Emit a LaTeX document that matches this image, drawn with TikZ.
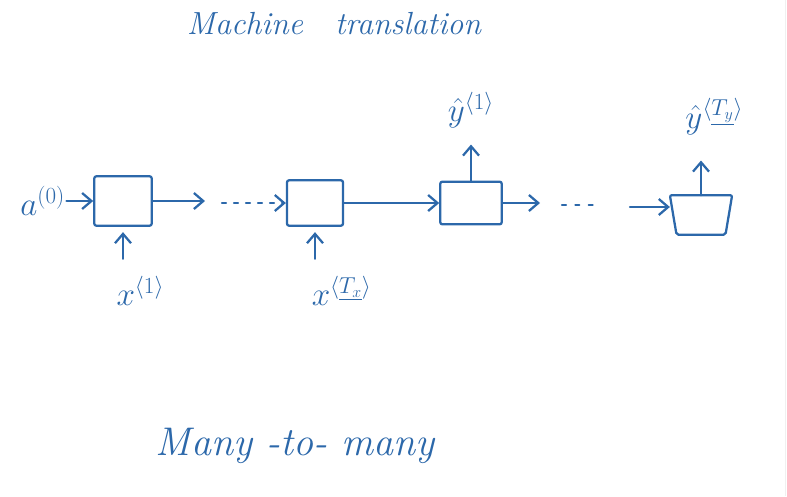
\documentclass[tikz,border=0pt]{standalone}
\usetikzlibrary{arrows.meta,positioning}
\definecolor{pen}{RGB}{44,104,170}

\begin{document}
\begin{tikzpicture}[%
    x=0.75pt, y=-0.75pt,        % one unit is one pixel, y runs downwards
    >={Straight Barb[length=7pt,width=12pt]}, % open hand-drawn heads
    every node/.style={text=pen},
    ]
\useasboundingbox (0,0) rectangle (787,496);
% -------------------------------------------------
% Box and line styles
\tikzset{
  cell/.style={draw=pen, line width=1.7pt, rounded corners=1.5pt, inner sep=0pt,
               minimum width=43pt, minimum height=35pt},
  lbl/.style={inner sep=1pt, font=\fontsize{26}{30}\selectfont},
  it/.style={inner sep=1pt, font=\itshape},
  norm/.style={->, draw=pen, line width=1.7pt, line cap=round},
  dots/.style={draw=pen, line width=1.7pt, line cap=round,
               dash pattern=on 3pt off 7pt},
}
% -------------------------------------------------
% The unrolled cells
\node [cell, minimum height=37pt] (box1) at (123,201) {};
\node [cell, minimum width=42pt, minimum height=34pt] (box2) at (315,203) {};
\node [cell, minimum width=46pt, minimum height=32pt] (box3) at (471,203) {};
\node [cell, draw=none, minimum width=45pt, minimum height=28pt] (box4) at (701,215) {};
% last cell is a bit squashed at the bottom
\draw [pen, line width=1.7pt, rounded corners=1.5pt] (box4.north west) -- (box4.north east)
      -- ([xshift=-5pt]box4.south east) -- ([xshift=5pt]box4.south west) -- cycle;

% inputs and outputs
\node [lbl, left=20pt of box1] (a0) {$a^{(0)}$};
\node [lbl, below=36pt of box1, xshift=13pt] (x1) {$x^{\langle 1\rangle}$};
\node [lbl, below=36pt of box2, xshift=20pt] (xT) {$x^{\langle \underline{T_x}\rangle}$};
\node [lbl, above=38pt of box3] (y1) {$\hat{y}^{\langle 1\rangle}$};
\node [lbl, above=44pt of box4, xshift=10pt] (yT) {$\hat{y}^{\langle \underline{T_y}\rangle}$};

% free ends of the broken connectors
\coordinate (c1) at (205,201);
\coordinate (d1) at (222,203);
\coordinate (c3) at (540,203);
\coordinate (d3) at (562,205);
\coordinate (e3) at (600,205);
\coordinate (c4) at (630,207);

% -------------------------------------------------
% Connectors
\draw [norm] (a0.east) -- (box1.west);
\draw [norm] (box1) -- (c1);
\draw [norm, dash pattern=on 3pt off 6pt] (d1) -- (box2.west);
\draw [norm] (box2) -- (box3);
\draw [norm] (box3) -- (c3);
\draw [dots] (d3) -- (e3);
\draw [norm] (c4) -- (c4 -| box4.west);

\draw [norm, shorten <=12pt, shorten >=4pt] (box1.south |- x1.north) -- (box1.south);
\draw [norm, shorten <=12pt, shorten >=4pt] (box2.south |- xT.north) -- (box2.south);
\draw [norm, shorten >=11pt] (box3.north) -- (box3.north |- y1.south);
\draw [norm, shorten >=18pt] (box4.north) -- (box4.north |- yT.south);

% -------------------------------------------------
% Titles
\node [it, font=\fontsize{24}{28}\selectfont\itshape] (title) at (334,24) {Machine\quad translation};
\node [it, font=\fontsize{30}{36}\selectfont\itshape] (kind) at (295,446) {Many -to- many};

\draw [gray!12, line width=0.8pt] (785.5,0) -- (785.5,496);
\end{tikzpicture}
\end{document}
